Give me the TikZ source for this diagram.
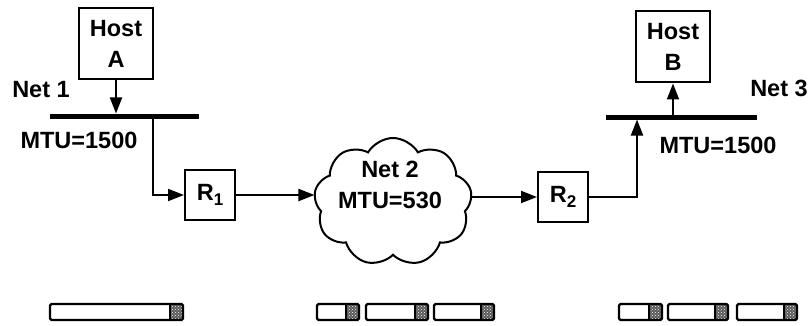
\documentclass[tikz,border=0pt]{standalone}
\usepackage{fontspec}
\setmainfont{Liberation Sans}
\usetikzlibrary{arrows.meta,shapes.symbols,patterns}
\newcommand\labfont{\fontsize{23.5}{31}\selectfont\bfseries}
\newcommand\subnum[1]{\raisebox{-5pt}{\fontsize{17}{17}\selectfont #1}}
\newcommand\pktdraw[2]{%
  \fill[black!65] (#2-13,304) rectangle (#2,320);
  \fill[pattern=crosshatch dots,pattern color=white] (#2-13,304) rectangle (#2,320);
  \draw[pktline] (#1,304) rectangle (#2,320);
  \draw[line width=1.4pt] (#2-13,304) -- (#2-13,320);}
\begin{document}
\begin{tikzpicture}[x=1pt,y=-1pt,
  txt/.style={inner sep=0pt,font=\labfont,align=center},
  hostbox/.style={draw,line width=2pt,minimum width=74pt,minimum height=71pt,inner sep=0pt,font=\labfont,align=center},
  rbox/.style={draw,line width=2pt,minimum width=50pt,minimum height=50pt,inner sep=0pt,font=\labfont},
  arr/.style={line width=1.9pt,-{Triangle[length=16pt,width=12pt]}},
  bus/.style={line width=5pt},
  pktline/.style={line width=2.4pt,rounded corners=1.5pt},
  cloudshape/.style={cloud,draw,line width=2pt,cloud puffs=9,cloud puff arc=120,aspect=1.25,minimum width=158pt,minimum height=128pt,inner sep=0pt}]
\useasboundingbox (0,0) rectangle (810,326);
% hosts
\node[hostbox] (hostA) at (116,44) {Host\\A};
\node[hostbox] (hostB) at (673,47) {Host\\B};
% net 1
\coordinate (b1l) at (50,116);
\coordinate (b1r) at (199,116);
\draw[bus] (b1l) -- (b1r);
\coordinate (a1) at (116,113.5);
\draw[arr] (hostA.south) -- (a1);
\node[txt] (net1) at (41,90) {Net 1};
\node[txt] (mtu1) at (79,140) {MTU=1500};
% R1
\node[rbox] (r1) at (210,195) {R\subnum{1}};
\coordinate (d1) at (153,116);
\draw[arr] (d1) |- (r1.west);
% cloud
\node[cloudshape] (net2) at (393,202) {};
\node[txt] (net2t) at (390,185) {Net 2\\MTU=530};
\draw[arr] (r1.east) -- (r1.east -| net2.west);
% R2
\node[rbox] (r2) at (563,197) {R\subnum{2}};
\draw[arr] (net2.east |- r2.west) -- (r2.west);
\coordinate (d3) at (637,119.5);
\draw[arr] (r2.east) -| (d3);
% net 3
\coordinate (b3l) at (606,117);
\coordinate (b3r) at (757,117);
\draw[bus] (b3l) -- (b3r);
\coordinate (a3) at (673,117);
\draw[arr] (a3) -- (hostB.south);
\node[txt] (net3) at (779,88) {Net 3};
\node[txt] (mtu3) at (718,145) {MTU=1500};
% packets
\pktdraw{50}{183}
\pktdraw{317}{359}
\pktdraw{366}{428}
\pktdraw{434}{494}
\pktdraw{619}{662}
\pktdraw{668}{728}
\pktdraw{737}{797}
\end{tikzpicture}
\end{document}
